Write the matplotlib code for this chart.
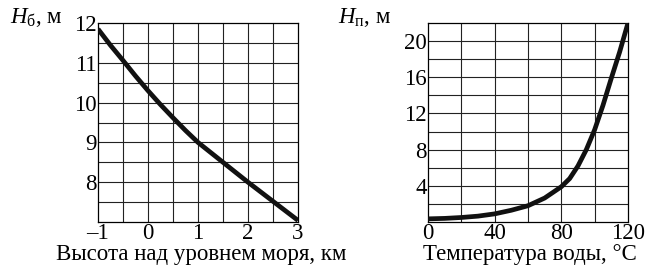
import numpy as np
import matplotlib
matplotlib.use("Agg")
import matplotlib.pyplot as plt

plt.rcParams['font.family'] = ['Liberation Serif', 'DejaVu Serif']
plt.rcParams['mathtext.fontset'] = 'custom'
plt.rcParams['mathtext.rm'] = 'Liberation Serif'
plt.rcParams['mathtext.it'] = 'Liberation Serif:italic'

# left chart: barometric head vs altitude
altitude_km = [-1, -0.75, -0.5, -0.25, 0, 0.25, 0.5, 0.75, 1, 1.5, 2, 2.5, 3]
head_baro_m = [11.85, 11.44, 11.06, 10.67, 10.3, 9.95, 9.62, 9.3, 9.0, 8.5, 8.0, 7.52, 7.04]
alt_ticks = [-1, 0, 1, 2, 3]
alt_ticklabels = ['\u20131', '0', '1', '2', '3']
baro_ticks = [8, 9, 10, 11, 12]

# right chart: vapour head vs water temperature
temp_c = [0, 10, 20, 30, 40, 50, 60, 70, 80, 85, 90, 95, 100, 105, 110, 115, 120]
head_vap_m = [0.35, 0.4, 0.5, 0.65, 0.9, 1.3, 1.8, 2.65, 3.9, 4.8, 6.2, 8.0, 10.2, 12.9, 15.9, 18.8, 22.0]
temp_ticks = [0, 40, 80, 120]
vap_ticks = [4, 8, 12, 16, 20]

fig = plt.figure(figsize=(6.46, 2.68), dpi=100)
ax1 = fig.add_axes([0.1517, 0.1716, 0.3096, 0.7425])
ax2 = fig.add_axes([0.6625, 0.1716, 0.3096, 0.7425])

fs = 16.5

def setup(ax, xlim, ylim, xgrid, ygrid):
    ax.set_xlim(*xlim)
    ax.set_ylim(*ylim)
    for v in xgrid:
        ax.axvline(v, color='#222222', lw=0.8, zorder=1)
    for v in ygrid:
        ax.axhline(v, color='#222222', lw=0.8, zorder=1)
    for s in ax.spines.values():
        s.set_linewidth(0.9)
    ax.tick_params(length=0, labelsize=fs, pad=1)

setup(ax1, (-1, 3), (7, 12), np.arange(-0.5, 3, 0.5), np.arange(7.5, 12, 0.5))
ax1.plot(altitude_km, head_baro_m, color='#111111', lw=3.4, solid_capstyle='butt',
         solid_joinstyle='round', zorder=3)
ax1.set_xticks(alt_ticks)
ax1.set_xticklabels(alt_ticklabels)
ax1.set_yticks(baro_ticks)
ax1.set_xlabel('Высота над уровнем моря, км', fontsize=fs)
ax1.xaxis.set_label_coords(0.515, -0.163)
ax1.xaxis.label.set_va('center')

setup(ax2, (0, 120), (0, 22), np.arange(20, 120, 20), np.arange(2, 22, 2))
ax2.plot(temp_c, head_vap_m, color='#111111', lw=3.4, solid_capstyle='butt',
         solid_joinstyle='round', zorder=3)
ax2.set_xticks(temp_ticks)
ax2.set_yticks(vap_ticks)
ax2.set_xlabel('Температура воды, °С', fontsize=fs)
ax2.xaxis.set_label_coords(0.51, -0.163)
ax2.xaxis.label.set_va('center')

fig.text(0.016, 0.915, r'$H_{\mathrm{б}}$, м', fontsize=fs, ha='left', va='baseline')
fig.text(0.523, 0.915, r'$H_{\mathrm{п}}$, м', fontsize=fs, ha='left', va='baseline')

fig.savefig('out.png', dpi=100, facecolor='white')
